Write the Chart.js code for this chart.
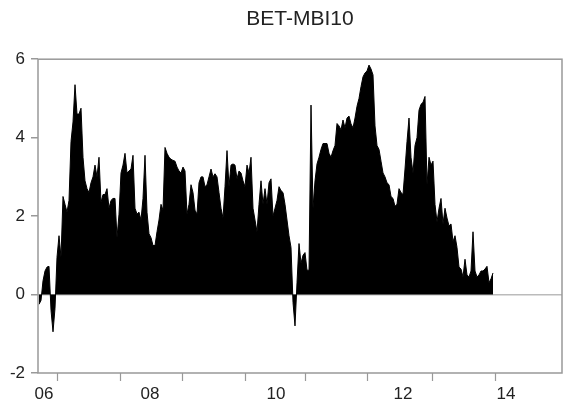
<!DOCTYPE html>
<html>
<head>
<meta charset="utf-8">
<script src="https://cdn.jsdelivr.net/npm/chart.js@4"></script>
<style>
  body { margin: 0; background: #fff; }
  #wrap { width: 570px; height: 405px; }
</style>
</head>
<body>
<div id="wrap"><canvas id="myChart" width="570" height="405"></canvas></div>
<script>
const values = [
  -0.25, -0.15, 0.35, 0.6, 0.7, 0.72, -0.4, -0.95, -0.35, 0.95,
  1.5, 0.95, 2.5, 2.3, 2.1, 2.4, 3.9, 4.4, 5.35, 4.6,
  4.6, 4.75, 3.5, 2.9, 2.7, 2.6, 2.85, 3.0, 3.3, 3.0,
  3.5, 2.35, 2.55, 2.55, 2.7, 2.2, 2.4, 2.45, 2.45, 1.45,
  2.05, 3.1, 3.3, 3.6, 3.1, 3.15, 3.2, 3.55, 2.2, 2.05,
  2.1, 1.9, 2.45, 3.55, 2.1, 1.55, 1.45, 1.25, 1.25, 1.6,
  1.9, 2.3, 2.15, 3.75, 3.6, 3.5, 3.45, 3.42, 3.4, 3.25,
  3.15, 3.1, 3.25, 3.15, 2.05, 2.3, 2.8, 2.6, 2.15, 2.05,
  2.85, 3.0, 3.0, 2.75, 2.8, 3.0, 3.2, 3.0, 3.08, 3.0,
  2.6, 2.2, 1.95, 2.75, 3.67, 2.75, 3.3, 3.33, 3.3, 2.95,
  3.15, 3.1, 2.9, 2.75, 3.3, 3.1, 3.5, 2.2, 1.9, 1.6,
  2.3, 2.9, 2.3, 2.7, 2.3, 2.85, 2.95, 2.0, 2.2, 2.4,
  2.75, 2.65, 2.6, 2.3, 1.9, 1.5, 1.2, -0.2, -0.8, 0.3,
  1.3, 0.8, 1.0, 1.07, 0.62, 0.62, 4.83, 2.2, 2.9, 3.33,
  3.5, 3.7, 3.85, 3.85, 3.85, 3.6, 3.5, 3.67, 3.8, 4.36,
  4.3, 4.2, 4.45, 4.25, 4.5, 4.55, 4.35, 4.25, 4.5, 4.8,
  5.0, 5.3, 5.55, 5.65, 5.7, 5.85, 5.75, 5.6, 4.3, 3.8,
  3.7, 3.4, 3.1, 3.0, 2.85, 2.8, 2.5, 2.45, 2.25, 2.3,
  2.7, 2.6, 2.55, 3.2, 3.9, 4.5, 3.5, 3.1, 3.8, 4.0,
  4.7, 4.85, 4.9, 5.05, 2.8, 3.5, 3.3, 3.4, 2.3, 1.85,
  2.2, 2.45, 1.8, 2.2, 1.95, 1.75, 1.8, 1.35, 1.5, 1.2,
  0.7, 0.65, 0.45, 0.9, 0.5, 0.45, 0.6, 1.6, 0.6, 0.45,
  0.5, 0.6, 0.6, 0.65, 0.72, 0.3, 0.4, 0.55
]

// x axis in observation units
const xMin = -0.5
const xMax = 261.5
const xLabels = ['06', '08', '10', '12', '14']
const xLabelPos = [2.5, 55.5, 118.5, 182, 233.5]
const xTickMarks = [9, 40.5, 71.5, 103, 133, 164, 196.5, 228]

// y axis
const yTicks = [-2, 0, 2, 4, 6]

const points = values.map((v, i) => ({ x: i, y: v }))

const font = 'Liberation Sans, Arial, sans-serif'

// box round the plot + small tick marks under the x axis
const framePlugin = {
  id: 'frame',
  afterDatasetsDraw(chart) {
    const { ctx, chartArea: a, scales } = chart
    ctx.save()
    ctx.strokeStyle = '#999'
    ctx.lineWidth = 1.5
    ctx.strokeRect(a.left, a.top, a.right - a.left, a.bottom - a.top)
    ctx.lineWidth = 1.2
    xTickMarks.forEach(v => {
      const px = Math.round(scales.x.getPixelForValue(v)) + 0.5
      ctx.beginPath()
      ctx.moveTo(px, a.bottom)
      ctx.lineTo(px, a.bottom + 8)
      ctx.stroke()
    })
    ctx.restore()
  }
}

const ctx = document.getElementById('myChart').getContext('2d')
const char = new Chart(ctx, {
  type: 'line',
  data: {
    datasets: [{
      label: 'BET-MBI10',
      data: points,
      borderColor: '#000',
      backgroundColor: '#000',
      borderWidth: 1,
      pointRadius: 0,
      tension: 0,
      fill: 'origin'
    }]
  },
  options: {
    responsive: false,
    animation: false,
    layout: { padding: { left: 0, right: 8, top: 0, bottom: 0 } },
    plugins: {
      legend: { display: false },
      tooltip: { enabled: false },
      title: {
        display: true,
        fullSize: false,
        text: 'BET-MBI10',
        color: '#222',
        font: { family: font, size: 21, weight: 'normal' },
        padding: { top: 7, bottom: 27 }
      }
    },
    scales: {
      x: {
        type: 'linear',
        min: xMin,
        max: xMax,
        afterFit(scale) { scale.height = 32 },
        afterBuildTicks(scale) { scale.ticks = xLabelPos.map(v => ({ value: v })) },
        grid: { display: false },
        border: { display: false },
        ticks: {
          autoSkip: false,
          maxRotation: 0,
          padding: 3,
          color: '#222',
          font: { family: font, size: 17 },
          callback: (val, idx) => xLabels[idx]
        }
      },
      y: {
        min: -2,
        max: 6,
        afterFit(scale) { scale.width = 38 },
        afterBuildTicks(scale) { scale.ticks = yTicks.map(v => ({ value: v })) },
        border: { display: false },
        grid: {
          color: c => (c.tick && c.tick.value === 0) ? '#bbb' : 'rgba(0,0,0,0)',
          lineWidth: 1.5,
          tickColor: '#999',
          tickLength: 7,
          drawTicks: true
        },
        ticks: {
          padding: 6,
          color: '#222',
          font: { family: font, size: 17 },
          callback: v => String(v)
        }
      }
    }
  },
  plugins: [framePlugin]
})
</script>
</body>
</html>
